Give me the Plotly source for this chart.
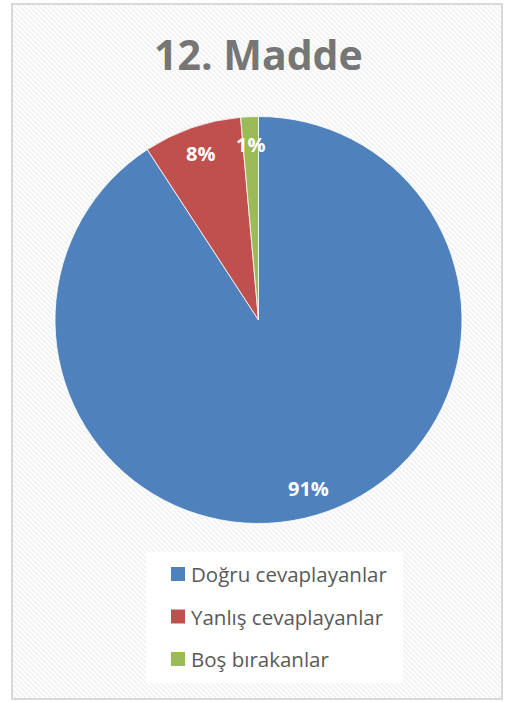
import base64
import math
import plotly.graph_objects as go

# datos del grafico
labels = ['Doğru cevaplayanlar', 'Yanlış cevaplayanlar', 'Boş bırakanlar']
values = [90.8, 7.8, 1.4]
pct_text = ['91%', '8%', '1%']
colors = ['#4F81BD', '#C0504D', '#9BBB59']
title = '12. Madde'

W, H = 506, 702
cx, cy, r = 258.5, 320, 203.5

# fondo rayado como en Excel
svg = ('<svg xmlns="http://www.w3.org/2000/svg" width="490" height="695">'
       '<defs><pattern id="p" patternUnits="userSpaceOnUse" width="5" height="5">'
       '<path d="M-1,-1 L6,6 M-1,4 L1,6 M4,-1 L6,1" stroke="#f1f1f1" stroke-width="1.6"/>'
       '</pattern></defs><rect width="490" height="695" fill="white"/>'
       '<rect width="490" height="695" fill="url(#p)"/></svg>')
bg_src = 'data:image/svg+xml;base64,' + base64.b64encode(svg.encode()).decode()

fig = go.Figure(go.Pie(
    labels=labels, values=values, sort=False, direction='clockwise',
    marker=dict(colors=colors, line=dict(color='white', width=0.8)),
    textinfo='none', hoverinfo='label+percent', showlegend=False,
    domain=dict(x=[(cx - r) / W, (cx + r) / W], y=[1 - (cy + r) / H, 1 - (cy - r) / H])
))

# etiquetas de porcentaje en el angulo medio de cada porcion
total = sum(values)
acum = 0
annotations = []
for v, t in zip(values, pct_text):
    mid = (acum + v / 2) / total * 2 * math.pi
    acum += v
    px = cx + 0.865 * r * math.sin(mid)
    py = cy - 0.865 * r * math.cos(mid)
    annotations.append(dict(x=px / W, y=1 - py / H, xref='paper', yref='paper', text='<b>' + t + '</b>',
                            showarrow=False, font=dict(family='Open Sans', size=20, color='white'),
                            xanchor='center', yanchor='middle'))

# leyenda manual
shapes = [dict(type='rect', xref='paper', yref='paper', x0=12 / W, x1=502 / W, y0=1 - 699 / H, y1=1 - 4 / H,
               line=dict(color='#d9d9d9', width=2), layer='above'),
          dict(type='rect', xref='paper', yref='paper', x0=146 / W, x1=403 / W, y0=1 - 683 / H, y1=1 - 552 / H,
               fillcolor='white', line=dict(width=0), layer='above')]
for i, (lab, col) in enumerate(zip(labels, colors)):
    yc = 574 + i * 42.5
    shapes.append(dict(type='rect', xref='paper', yref='paper', x0=171 / W, x1=185 / W,
                       y0=1 - (yc + 7) / H, y1=1 - (yc - 7) / H, fillcolor=col, line=dict(width=0), layer='above'))
    annotations.append(dict(x=189 / W, y=1 - yc / H, xref='paper', yref='paper', text=lab, showarrow=False,
                            font=dict(family='Open Sans', size=20.5, color='#595959'),
                            xanchor='left', yanchor='middle'))

annotations.append(dict(x=258 / W, y=1 - 54 / H, xref='paper', yref='paper', text='<b>' + title + '</b>',
                        showarrow=False, font=dict(family='Open Sans', size=41, color='#767676'),
                        xanchor='center', yanchor='middle'))

fig.update_layout(
    width=W, height=H,
    margin=dict(l=0, r=0, t=0, b=0),
    paper_bgcolor='white',
    images=[dict(source=bg_src, xref='paper', yref='paper', x=12 / W, y=1 - 4 / H,
                 sizex=490 / W, sizey=695 / H, sizing='stretch', layer='below',
                 xanchor='left', yanchor='top')],
    shapes=shapes,
    annotations=annotations,
)

fig.write_html('out.html', config={'displayModeBar': False},
               post_script="document.body.style.margin='0';")
